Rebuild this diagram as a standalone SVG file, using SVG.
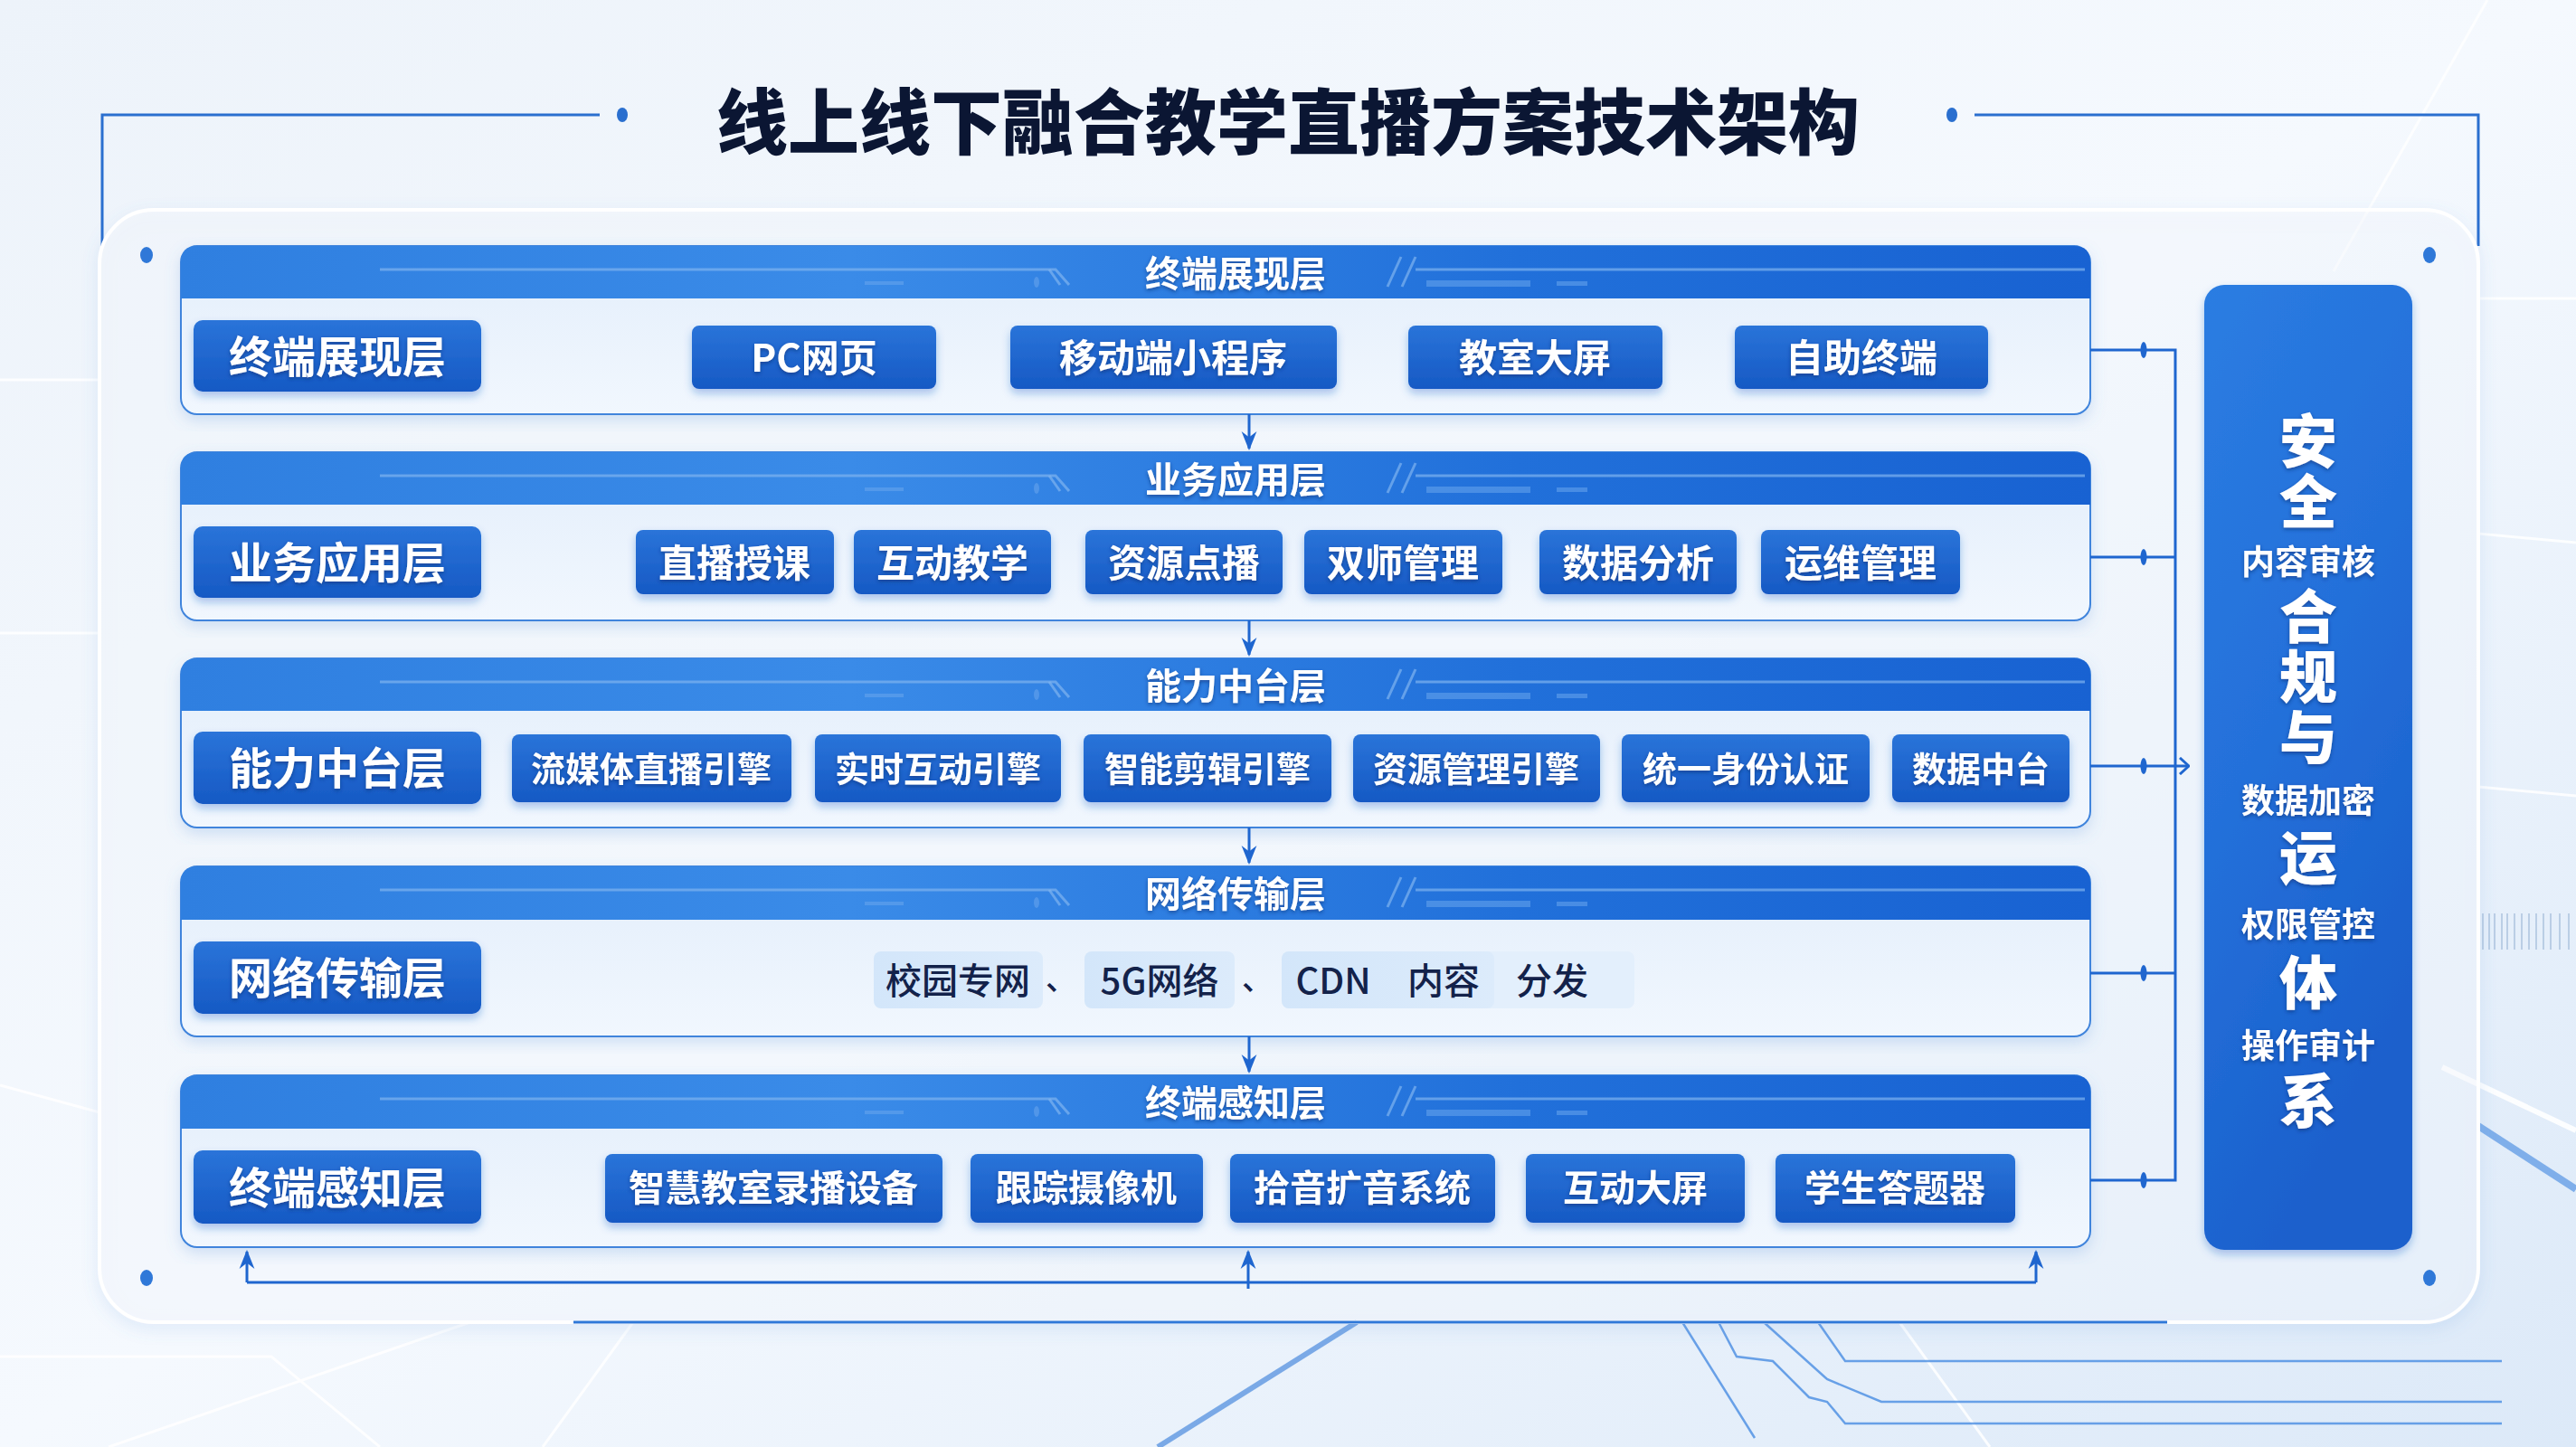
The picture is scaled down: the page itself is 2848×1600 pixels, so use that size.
<svg xmlns="http://www.w3.org/2000/svg" width="2848" height="1600" viewBox="0 0 2848 1600">
<defs>
<linearGradient id="bg" x1="0" y1="0" x2="1" y2="1">
<stop offset="0" stop-color="#EDF3FA"/><stop offset="0.5" stop-color="#F5F9FE"/><stop offset="1" stop-color="#DCE9F8"/>
</linearGradient>
<linearGradient id="hdr" x1="0" y1="0" x2="1" y2="0">
<stop offset="0" stop-color="#2F7FE0"/><stop offset="0.35" stop-color="#3A8BE8"/><stop offset="0.7" stop-color="#2170DA"/><stop offset="1" stop-color="#1862D2"/>
</linearGradient>
<linearGradient id="body" x1="0" y1="0" x2="0" y2="1">
<stop offset="0" stop-color="#E3EEFB"/><stop offset="1" stop-color="#F1F7FE"/>
</linearGradient>
<linearGradient id="item" x1="0" y1="0" x2="0" y2="1">
<stop offset="0" stop-color="#2A74D9"/><stop offset="1" stop-color="#1659C4"/>
</linearGradient>
<linearGradient id="sec" x1="0" y1="0" x2="0.4" y2="1">
<stop offset="0" stop-color="#2B7DE2"/><stop offset="0.5" stop-color="#2470DA"/><stop offset="1" stop-color="#1A60CC"/>
</linearGradient>
<linearGradient id="net" x1="0" y1="0" x2="1" y2="0">
<stop offset="0" stop-color="#D3E6FA"/><stop offset="1" stop-color="#DCEBFB"/>
</linearGradient>
<filter id="sh" x="-10%" y="-20%" width="120%" height="150%">
<feDropShadow dx="0" dy="5" stdDeviation="5" flood-color="#1A5FC8" flood-opacity="0.35"/>
</filter>
<filter id="tsh" x="-10%" y="-20%" width="120%" height="150%">
<feDropShadow dx="0" dy="2" stdDeviation="2" flood-color="#0A2D6E" flood-opacity="0.6"/>
</filter>
<filter id="soft" x="-5%" y="-5%" width="110%" height="115%">
<feDropShadow dx="0" dy="6" stdDeviation="8" flood-color="#5E95DB" flood-opacity="0.25"/>
</filter>
<marker id="ad" viewBox="0 0 10 10" refX="9" refY="5" markerWidth="7" markerHeight="7" orient="auto">
<path d="M0,1 L10,5 L0,9 L3,5 Z" fill="#1F66CF"/>
</marker>
<marker id="chev" viewBox="0 0 12 20" refX="11" refY="10" markerWidth="12" markerHeight="20" markerUnits="userSpaceOnUse" orient="auto">
<path d="M1,1 L11,10 L1,19" fill="none" stroke="#1F66CF" stroke-width="3"/>
</marker>
<style>
.f{font-family:"Noto Sans CJK SC","Noto Sans",sans-serif;}
.w{fill:#FFFFFF;font-weight:700;text-anchor:middle;dominant-baseline:central;}
.it{fill:url(#item);filter:url(#sh);}
.lb{fill:url(#item);filter:url(#sh);}
.bd{fill:url(#body);stroke:#3F84DC;stroke-width:2;}
.hd{fill:url(#hdr);}
.deco{stroke:#7FB3F0;stroke-width:3;fill:none;opacity:0.7;}
.decof{fill:#6AA6EC;opacity:0.55;}
.cn{stroke:#1F66CF;stroke-width:3;fill:none;}
.nt{fill:#13224A;font-weight:500;dominant-baseline:central;}
.bgl{stroke:#FFFFFF;stroke-width:3;fill:none;opacity:0.85;}
.bgb{stroke:#3E86E0;stroke-width:2.5;fill:none;opacity:0.75;}
.big{font-size:64px;font-weight:900;fill:#FFFFFF;writing-mode:vertical-rl;text-anchor:start;letter-spacing:3px;}
.sm{font-size:37px;font-weight:700;fill:#FFFFFF;text-anchor:middle;dominant-baseline:central;}
</style>
</defs>

<rect width="2848" height="1600" fill="url(#bg)"/>

<g id="background-decor">
<path class="bgl" d="M0,420 L110,420 M0,700 L110,700 M2740,330 L2848,330 M2740,590 L2848,600 M2740,870 L2848,880"/>
<path class="bgl" d="M0,1200 L110,1230 M0,1500 L300,1500 L420,1600 M120,1600 L520,1462 M600,1600 L700,1462 M2100,1462 L2200,1600"/>
<path d="M1500,1462 L1280,1600" stroke="#2F78D8" stroke-width="6" opacity="0.6" fill="none"/>
<path class="bgb" d="M1900,1462 L1920,1500 L1960,1505 L2000,1545 L2020,1550 L2040,1574 L2766,1574"/>
<path class="bgb" d="M1860,1462 L1940,1590"/>
<path class="bgb" d="M2010,1462 L2040,1505 L2766,1505"/>
<path class="bgb" d="M1950,1462 L2020,1525 L2080,1550 L2766,1550"/>
<path d="M2740,1245 L2848,1315" stroke="#3E86E0" stroke-width="8" opacity="0.6" fill="none"/>
<path d="M2700,1180 L2848,1250" stroke="#FFFFFF" stroke-width="6" opacity="0.9" fill="none"/>
<path d="M2750,0 L2580,300" stroke="#FFFFFF" stroke-width="3" opacity="0.8" fill="none"/>
<g stroke="#9FB9D8" stroke-width="2" opacity="0.6">
<path d="M2745,1010 V1050 M2752,1010 V1050 M2758,1010 V1050 M2766,1010 V1050 M2772,1010 V1050 M2780,1010 V1050 M2788,1010 V1050 M2796,1010 V1050 M2804,1010 V1050 M2812,1010 V1050 M2820,1010 V1050 M2830,1010 V1050 M2840,1010 V1050"/>
</g>
</g>

<g id="title">
<path d="M113,272 V127 H663" stroke="#2A6FCF" stroke-width="3" fill="none"/>
<path d="M2740,272 V127 H2183" stroke="#2A6FCF" stroke-width="3" fill="none"/>
<ellipse cx="688" cy="127" rx="6" ry="8" fill="#2A6FCF"/>
<ellipse cx="2158" cy="127" rx="6" ry="8" fill="#2A6FCF"/>
<text class="f" x="1424" y="130" font-size="79" font-weight="900" fill="#0B1633" text-anchor="middle" dominant-baseline="central">线上线下融合教学直播方案技术架构</text>
</g>

<g id="outer-panel">
<rect x="110" y="232" width="2630" height="1230" rx="60" fill="#FFFFFF" fill-opacity="0.35" stroke="#FFFFFF" stroke-width="4" filter="url(#soft)"/>
<path d="M634,1462 H2396" stroke="#2F78D8" stroke-width="3"/>
<ellipse cx="162" cy="282" rx="7" ry="9" fill="#2F78D8"/>
<ellipse cx="2686" cy="282" rx="7" ry="9" fill="#2F78D8"/>
<ellipse cx="162" cy="1413" rx="7" ry="9" fill="#2F78D8"/>
<ellipse cx="2686" cy="1413" rx="7" ry="9" fill="#2F78D8"/>
</g>

<!-- Row 1 -->
<g id="layer-terminal-display" transform="translate(0,272)">
<rect class="bd" x="200" y="0" width="2111" height="186" rx="18" filter="url(#soft)"/>
<path class="hd" d="M218,0 H2293 Q2311,0 2311,18 V58 H200 V18 Q200,0 218,0 Z"/>
<path class="deco" d="M420,26 H1167 L1182,43"/><path class="deco" d="M1160,26 L1172,43"/>
<rect class="decof" x="956" y="39" width="43" height="4"/><ellipse class="decof" cx="1146" cy="40" rx="3" ry="6"/>
<path class="deco" d="M1534,45 L1549,12 M1550,45 L1565,12 M1565,26 H2305"/>
<rect class="decof" x="1577" y="38" width="115" height="7"/><rect class="decof" x="1721" y="39" width="34" height="5"/>
<text class="f w" x="1366" y="28" font-size="40" filter="url(#tsh)">终端展现层</text>
<g id="lbl-1"><rect class="lb" x="214" y="82" width="318" height="79" rx="10"/><text class="f w" x="373" y="119" font-size="48" filter="url(#tsh)">终端展现层</text></g>
<g id="n-pc"><rect class="it" x="765" y="88" width="270" height="70" rx="8"/><text class="f w" x="900" y="120" font-size="42" filter="url(#tsh)">PC网页</text></g>
<g id="n-mobile"><rect class="it" x="1117" y="88" width="361" height="70" rx="8"/><text class="f w" x="1297" y="120" font-size="42" filter="url(#tsh)">移动端小程序</text></g>
<g id="n-screen"><rect class="it" x="1557" y="88" width="281" height="70" rx="8"/><text class="f w" x="1697" y="120" font-size="42" filter="url(#tsh)">教室大屏</text></g>
<g id="n-kiosk"><rect class="it" x="1918" y="88" width="280" height="70" rx="8"/><text class="f w" x="2058" y="120" font-size="42" filter="url(#tsh)">自助终端</text></g>
</g>

<!-- Row 2 -->
<g id="layer-business" transform="translate(0,500)">
<rect class="bd" x="200" y="0" width="2111" height="186" rx="18" filter="url(#soft)"/>
<path class="hd" d="M218,0 H2293 Q2311,0 2311,18 V58 H200 V18 Q200,0 218,0 Z"/>
<path class="deco" d="M420,26 H1167 L1182,43"/><path class="deco" d="M1160,26 L1172,43"/>
<rect class="decof" x="956" y="39" width="43" height="4"/><ellipse class="decof" cx="1146" cy="40" rx="3" ry="6"/>
<path class="deco" d="M1534,45 L1549,12 M1550,45 L1565,12 M1565,26 H2305"/>
<rect class="decof" x="1577" y="38" width="115" height="7"/><rect class="decof" x="1721" y="39" width="34" height="5"/>
<text class="f w" x="1366" y="28" font-size="40" filter="url(#tsh)">业务应用层</text>
<g id="lbl-2"><rect class="lb" x="214" y="82" width="318" height="79" rx="10"/><text class="f w" x="373" y="119" font-size="48" filter="url(#tsh)">业务应用层</text></g>
<g id="n-live"><rect class="it" x="703" y="86" width="219" height="71" rx="8"/><text class="f w" x="812" y="119" font-size="42" filter="url(#tsh)">直播授课</text></g>
<g id="n-interact"><rect class="it" x="944" y="86" width="218" height="71" rx="8"/><text class="f w" x="1053" y="119" font-size="42" filter="url(#tsh)">互动教学</text></g>
<g id="n-vod"><rect class="it" x="1200" y="86" width="218" height="71" rx="8"/><text class="f w" x="1309" y="119" font-size="42" filter="url(#tsh)">资源点播</text></g>
<g id="n-dual"><rect class="it" x="1442" y="86" width="219" height="71" rx="8"/><text class="f w" x="1551" y="119" font-size="42" filter="url(#tsh)">双师管理</text></g>
<g id="n-analytics"><rect class="it" x="1702" y="86" width="218" height="71" rx="8"/><text class="f w" x="1811" y="119" font-size="42" filter="url(#tsh)">数据分析</text></g>
<g id="n-ops"><rect class="it" x="1947" y="86" width="220" height="71" rx="8"/><text class="f w" x="2057" y="119" font-size="42" filter="url(#tsh)">运维管理</text></g>
</g>

<!-- Row 3 -->
<g id="layer-capability" transform="translate(0,728)">
<rect class="bd" x="200" y="0" width="2111" height="187" rx="18" filter="url(#soft)"/>
<path class="hd" d="M218,0 H2293 Q2311,0 2311,18 V58 H200 V18 Q200,0 218,0 Z"/>
<path class="deco" d="M420,26 H1167 L1182,43"/><path class="deco" d="M1160,26 L1172,43"/>
<rect class="decof" x="956" y="39" width="43" height="4"/><ellipse class="decof" cx="1146" cy="40" rx="3" ry="6"/>
<path class="deco" d="M1534,45 L1549,12 M1550,45 L1565,12 M1565,26 H2305"/>
<rect class="decof" x="1577" y="38" width="115" height="7"/><rect class="decof" x="1721" y="39" width="34" height="5"/>
<text class="f w" x="1366" y="28" font-size="40" filter="url(#tsh)">能力中台层</text>
<g id="lbl-3"><rect class="lb" x="214" y="81" width="318" height="80" rx="10"/><text class="f w" x="373" y="118" font-size="48" filter="url(#tsh)">能力中台层</text></g>
<g id="n-stream"><rect class="it" x="566" y="84" width="309" height="75" rx="8"/><text class="f w" x="720" y="119" font-size="38" filter="url(#tsh)">流媒体直播引擎</text></g>
<g id="n-rtc"><rect class="it" x="901" y="84" width="272" height="75" rx="8"/><text class="f w" x="1037" y="119" font-size="38" filter="url(#tsh)">实时互动引擎</text></g>
<g id="n-edit"><rect class="it" x="1198" y="84" width="274" height="75" rx="8"/><text class="f w" x="1335" y="119" font-size="38" filter="url(#tsh)">智能剪辑引擎</text></g>
<g id="n-res"><rect class="it" x="1496" y="84" width="273" height="75" rx="8"/><text class="f w" x="1632" y="119" font-size="38" filter="url(#tsh)">资源管理引擎</text></g>
<g id="n-auth"><rect class="it" x="1793" y="84" width="274" height="75" rx="8"/><text class="f w" x="1930" y="119" font-size="38" filter="url(#tsh)">统一身份认证</text></g>
<g id="n-data"><rect class="it" x="2092" y="84" width="196" height="75" rx="8"/><text class="f w" x="2190" y="119" font-size="38" filter="url(#tsh)">数据中台</text></g>
</g>

<!-- Row 4 -->
<g id="layer-network" transform="translate(0,958)">
<rect class="bd" x="200" y="0" width="2111" height="188" rx="18" filter="url(#soft)"/>
<path class="hd" d="M218,0 H2293 Q2311,0 2311,18 V59 H200 V18 Q200,0 218,0 Z"/>
<path class="deco" d="M420,26 H1167 L1182,43"/><path class="deco" d="M1160,26 L1172,43"/>
<rect class="decof" x="956" y="39" width="43" height="4"/><ellipse class="decof" cx="1146" cy="40" rx="3" ry="6"/>
<path class="deco" d="M1534,45 L1549,12 M1550,45 L1565,12 M1565,26 H2305"/>
<rect class="decof" x="1577" y="38" width="115" height="7"/><rect class="decof" x="1721" y="39" width="34" height="5"/>
<text class="f w" x="1366" y="28" font-size="40" filter="url(#tsh)">网络传输层</text>
<g id="lbl-4"><rect class="lb" x="214" y="83" width="318" height="80" rx="10"/><text class="f w" x="373" y="120" font-size="48" filter="url(#tsh)">网络传输层</text></g>
<g id="n-campus"><rect x="966" y="94" width="187" height="63" rx="8" fill="url(#net)"/><text class="f nt" x="1059" y="124" font-size="40" text-anchor="middle">校园专网</text></g>
<text class="f nt" x="1173" y="122" font-size="34" text-anchor="middle" fill="#3A6DB8">、</text>
<g id="n-5g"><rect x="1199" y="94" width="166" height="63" rx="8" fill="url(#net)"/><text class="f nt" x="1282" y="124" font-size="40" text-anchor="middle">5G网络</text></g>
<text class="f nt" x="1390" y="122" font-size="34" text-anchor="middle" fill="#3A6DB8">、</text>
<g id="n-cdn"><rect x="1417" y="94" width="390" height="63" rx="8" fill="#E3EFFC"/><rect x="1417" y="94" width="235" height="63" rx="8" fill="url(#net)"/>
<text class="f nt" x="1474" y="124" font-size="40" text-anchor="middle">CDN</text><text class="f nt" x="1596" y="124" font-size="40" text-anchor="middle">内容</text><text class="f nt" x="1716" y="124" font-size="40" text-anchor="middle">分发</text></g>
</g>

<!-- Row 5 -->
<g id="layer-sensing" transform="translate(0,1189)">
<rect class="bd" x="200" y="0" width="2111" height="190" rx="18" filter="url(#soft)"/>
<path class="hd" d="M218,0 H2293 Q2311,0 2311,18 V59 H200 V18 Q200,0 218,0 Z"/>
<path class="deco" d="M420,26 H1167 L1182,43"/><path class="deco" d="M1160,26 L1172,43"/>
<rect class="decof" x="956" y="39" width="43" height="4"/><ellipse class="decof" cx="1146" cy="40" rx="3" ry="6"/>
<path class="deco" d="M1534,45 L1549,12 M1550,45 L1565,12 M1565,26 H2305"/>
<rect class="decof" x="1577" y="38" width="115" height="7"/><rect class="decof" x="1721" y="39" width="34" height="5"/>
<text class="f w" x="1366" y="28" font-size="40" filter="url(#tsh)">终端感知层</text>
<g id="lbl-5"><rect class="lb" x="214" y="83" width="318" height="81" rx="10"/><text class="f w" x="373" y="121" font-size="48" filter="url(#tsh)">终端感知层</text></g>
<g id="n-recorder"><rect class="it" x="669" y="87" width="373" height="76" rx="8"/><text class="f w" x="855" y="122" font-size="40" filter="url(#tsh)">智慧教室录播设备</text></g>
<g id="n-camera"><rect class="it" x="1073" y="87" width="257" height="76" rx="8"/><text class="f w" x="1201" y="122" font-size="40" filter="url(#tsh)">跟踪摄像机</text></g>
<g id="n-audio"><rect class="it" x="1360" y="87" width="293" height="76" rx="8"/><text class="f w" x="1506" y="122" font-size="40" filter="url(#tsh)">拾音扩音系统</text></g>
<g id="n-board"><rect class="it" x="1687" y="87" width="242" height="76" rx="8"/><text class="f w" x="1808" y="122" font-size="40" filter="url(#tsh)">互动大屏</text></g>
<g id="n-clicker"><rect class="it" x="1963" y="87" width="265" height="76" rx="8"/><text class="f w" x="2095" y="122" font-size="40" filter="url(#tsh)">学生答题器</text></g>
</g>

<!-- Security panel -->
<g id="security">
<rect x="2437" y="315" width="230" height="1067" rx="22" fill="url(#sec)" filter="url(#sh)"/>
<g filter="url(#tsh)">
<text class="f big" x="2552" y="455">安全</text>
<text class="f sm" x="2552" y="619">内容审核</text>
<text class="f big" x="2552" y="649">合规与</text>
<text class="f sm" x="2552" y="883">数据加密</text>
<text class="f big" x="2552" y="916">运</text>
<text class="f sm" x="2552" y="1020">权限管控</text>
<text class="f big" x="2552" y="1054">体</text>
<text class="f sm" x="2552" y="1154">操作审计</text>
<text class="f big" x="2552" y="1185">系</text>
</g>
</g>

<g id="connectors">
<path class="cn" d="M1381,458 V496" marker-end="url(#ad)"/>
<path class="cn" d="M1381,686 V724" marker-end="url(#ad)"/>
<path class="cn" d="M1381,915 V954" marker-end="url(#ad)"/>
<path class="cn" d="M1381,1146 V1185" marker-end="url(#ad)"/>
<path class="cn" d="M273,1418 H2251"/>
<path class="cn" d="M273,1418 V1384" marker-end="url(#ad)"/>
<path class="cn" d="M1380,1425 V1384" marker-end="url(#ad)"/>
<path class="cn" d="M2251,1418 V1384" marker-end="url(#ad)"/>
<path class="cn" d="M2311,387 H2405 V1305 H2311"/>
<path class="cn" d="M2311,616 H2405"/>
<path class="cn" d="M2311,1076 H2405"/>
<path class="cn" d="M2311,847 H2420" marker-end="url(#chev)"/>
<g fill="#1F66CF">
<ellipse cx="2370" cy="387" rx="3.5" ry="9"/>
<ellipse cx="2370" cy="616" rx="3.5" ry="9"/>
<ellipse cx="2370" cy="847" rx="3.5" ry="9"/>
<ellipse cx="2370" cy="1076" rx="3.5" ry="9"/>
<ellipse cx="2370" cy="1305" rx="3.5" ry="9"/>
</g>
</g>
</svg>
